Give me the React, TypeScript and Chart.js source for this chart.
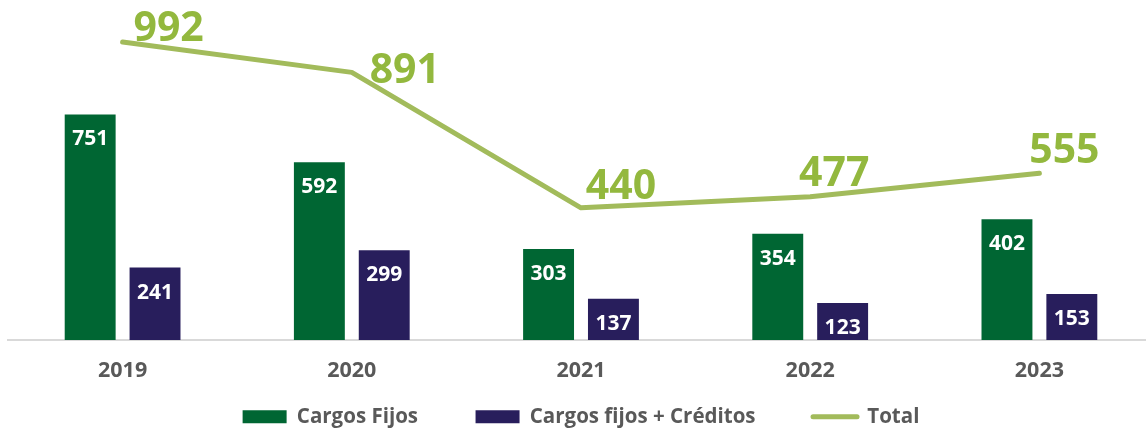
import { useEffect, useRef } from "react";
import { Chart, registerables } from "chart.js";

Chart.register(...registerables);

const categories = ["2019", "2020", "2021", "2022", "2023"];
const cargosFijos = [751, 592, 303, 354, 402];
const cargosFijosCreditos = [241, 299, 137, 123, 153];
const totals = [992, 891, 440, 477, 555];
const seriesNames = ["Cargos Fijos", "Cargos fijos + Créditos", "Total"];

const GREEN = "#006633";
const PURPLE = "#281e5c";
const LINE = "#a2bb5b";
const LINE_LABEL = "#93b83e";
const GRAY = "#595959";
const FONT = "'Open Sans', sans-serif";

// label placement relative to each total point (dx to text centre, dy to baseline)
const totalLabelOffsets = [
  [46, -1],
  [53, 11],
  [40, -9],
  [24, -11],
  [25, -10],
];

const CANVAS_W = 1162;
const CANVAS_H = 437;
const AREA_BOTTOM = 340;
const LEGEND_FONT = 20.5;
const LEGEND_PAD = 57.5;
const LEGEND_H = LEGEND_FONT + LEGEND_PAD + 10;

const valueLabels = {
  id: "valueLabels",
  afterDatasetsDraw(chart: any) {
    const ctx = chart.ctx;
    ctx.save();
    ctx.textAlign = "center";
    [0, 1].forEach((di) => {
      const meta = chart.getDatasetMeta(di);
      const data = chart.data.datasets[di].data as number[];
      ctx.font = `bold 21px ${FONT}`;
      ctx.fillStyle = "#ffffff";
      ctx.textBaseline = "middle";
      meta.data.forEach((el: any, i: number) => {
        ctx.fillText(String(data[i]), el.x, el.y + 25);
      });
    });
    const lm = chart.getDatasetMeta(2);
    const ldata = chart.data.datasets[2].data as number[];
    ctx.font = `bold 41px ${FONT}`;
    ctx.fillStyle = LINE_LABEL;
    ctx.textBaseline = "alphabetic";
    lm.data.forEach((el: any, i: number) => {
      const off = totalLabelOffsets[i] || [30, -8];
      ctx.fillText(String(ldata[i]), el.x + off[0], el.y + off[1]);
    });
    ctx.restore();
  },
};

export default function App() {
  const ref = useRef<HTMLCanvasElement | null>(null);

  useEffect(() => {
    if (!ref.current) return;
    Chart.defaults.font.family = FONT;
    const chart = new Chart(ref.current, {
      type: "bar",
      data: {
        labels: categories,
        datasets: [
          {
            type: "bar",
            label: seriesNames[0],
            data: cargosFijos,
            backgroundColor: GREEN,
            borderWidth: 0,
            categoryPercentage: 0.566,
            barPercentage: 0.785,
          },
          {
            type: "bar",
            label: seriesNames[1],
            data: cargosFijosCreditos,
            backgroundColor: PURPLE,
            borderWidth: 0,
            categoryPercentage: 0.566,
            barPercentage: 0.785,
          },
          {
            type: "line",
            label: seriesNames[2],
            data: totals,
            borderColor: LINE,
            backgroundColor: LINE,
            borderWidth: 5,
            borderCapStyle: "round",
            borderJoinStyle: "round",
            pointRadius: 0,
            pointHoverRadius: 0,
            tension: 0,
            order: -1,
          } as any,
        ],
      },
      options: {
        responsive: false,
        animation: false,
        layout: { padding: { left: 8, right: 8, top: 0, bottom: 0 } },
        plugins: {
          tooltip: { enabled: false },
          legend: {
            position: "bottom",
            labels: {
              usePointStyle: true,
              pointStyleWidth: 44,
              boxHeight: 13,
              padding: LEGEND_PAD,
              color: GRAY,
              font: { size: LEGEND_FONT, weight: "bold", family: FONT },
              sort: (a: any, b: any) => a.datasetIndex - b.datasetIndex,
              generateLabels: (c: any) => {
                const items = (Chart.defaults.plugins.legend.labels as any).generateLabels(c);
                items.forEach((it: any) => {
                  if (it.datasetIndex === 2) {
                    it.pointStyle = "line";
                    it.lineWidth = 5;
                    it.strokeStyle = LINE;
                    it.fillStyle = LINE;
                    it.lineCap = "round";
                  } else {
                    it.pointStyle = "rect";
                    it.lineWidth = 0;
                    it.strokeStyle = "rgba(0,0,0,0)";
                  }
                });
                return items;
              },
            },
          },
        },
        scales: {
          x: {
            grid: { display: false, drawTicks: false },
            border: { display: true, color: "#d9d9d9", width: 2 },
            ticks: {
              color: GRAY,
              font: { size: 21.5, weight: "bold", family: FONT },
              mirror: true,
              padding: -44,
              maxRotation: 0,
            },
            afterFit: (scale: any) => {
              scale.height = CANVAS_H - LEGEND_H - AREA_BOTTOM;
            },
          },
          y: {
            display: false,
            min: 0,
            max: 1132,
            grid: { display: false },
          },
        },
      },
      plugins: [valueLabels],
    });
    return () => chart.destroy();
  }, []);

  return (
    <div
      style={{
        position: "fixed",
        left: 0,
        top: 0,
        width: 1146,
        height: 430,
        overflow: "hidden",
        background: "#ffffff",
      }}
    >
      <canvas ref={ref} width={CANVAS_W} height={CANVAS_H} style={{ display: "block" }} />
    </div>
  );
}
